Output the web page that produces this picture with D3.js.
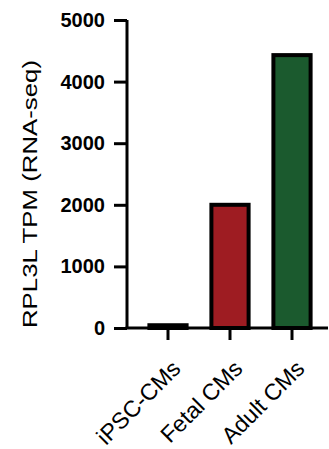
<!DOCTYPE html>
<html>
<head>
<meta charset="utf-8">
<script src="https://cdn.jsdelivr.net/npm/d3@7"></script>
<style>
  body { margin: 0; background: #fff; }
  svg { display: block; font-family: "Liberation Sans", Arial, sans-serif; }
</style>
</head>
<body>
<div id="chart"></div>
<script>
// data
var categories = ['iPSC-CMs', 'Fetal CMs', 'Adult CMs'];
var tpmValues = [45, 2000, 4430];
var barColors = ['#0c0c0c', '#9e1c22', '#1b5a2e'];
var yTicks = [0, 1000, 2000, 3000, 4000, 5000];
var yTitle = 'RPL3L TPM (RNA-seq)';

var width = 329, height = 449;

var svg = d3.select('#chart').append('svg')
    .attr('width', width)
    .attr('height', height);

var x = d3.scaleBand()
    .domain(categories)
    .range([137, 323])
    .paddingInner(0.4)
    .paddingOuter(0.2);

var y = d3.scaleLinear()
    .domain([0, 5000])
    .range([328, 20]);

// bars
svg.append('g').selectAll('rect')
    .data(categories)
    .enter().append('rect')
    .attr('x', function(d){ return x(d); })
    .attr('width', x.bandwidth())
    .attr('y', function(d, i){ return y(tpmValues[i]); })
    .attr('height', function(d, i){ return y(0) - y(tpmValues[i]); })
    .attr('fill', function(d, i){ return barColors[i]; })
    .attr('stroke', '#000')
    .attr('stroke-width', 4);

// y axis
var yAxis = svg.append('g')
    .attr('transform', 'translate(127,0)')
    .call(d3.axisLeft(y).tickValues(yTicks).tickSize(13).tickPadding(9).tickFormat(d3.format('d')));
yAxis.select('.domain').attr('stroke-width', 3).attr('d', 'M0,' + y(5000) + 'V' + y(0));
yAxis.selectAll('.tick line').attr('stroke-width', 3);
yAxis.selectAll('.tick text')
    .attr('fill', '#000')
    .style('font-size', '20px')
    .style('font-weight', 'bold')
    .style('font-family', '"Liberation Sans", Arial, sans-serif');

// x axis
var xAxis = svg.append('g')
    .attr('transform', 'translate(0,' + y(0) + ')')
    .call(d3.axisBottom(x).tickSize(12).tickSizeOuter(0));
xAxis.select('.domain').attr('stroke-width', 3).attr('d', 'M125.5,0H328');
xAxis.selectAll('.tick line').attr('stroke-width', 3);
xAxis.selectAll('.tick text')
    .attr('fill', '#000')
    .style('font-size', '23px')
    .style('font-family', '"Liberation Sans", Arial, sans-serif')
    .attr('text-anchor', 'end')
    .attr('dy', 0)
    .attr('y', 0)
    .attr('transform', 'translate(14,42) rotate(-45)');

// y title
svg.append('text')
    .attr('transform', 'translate(37,194) rotate(-90)')
    .attr('text-anchor', 'middle')
    .attr('textLength', 268)
    .attr('lengthAdjust', 'spacingAndGlyphs')
    .style('font-size', '20px')
    .text(yTitle);
</script>
</body>
</html>
